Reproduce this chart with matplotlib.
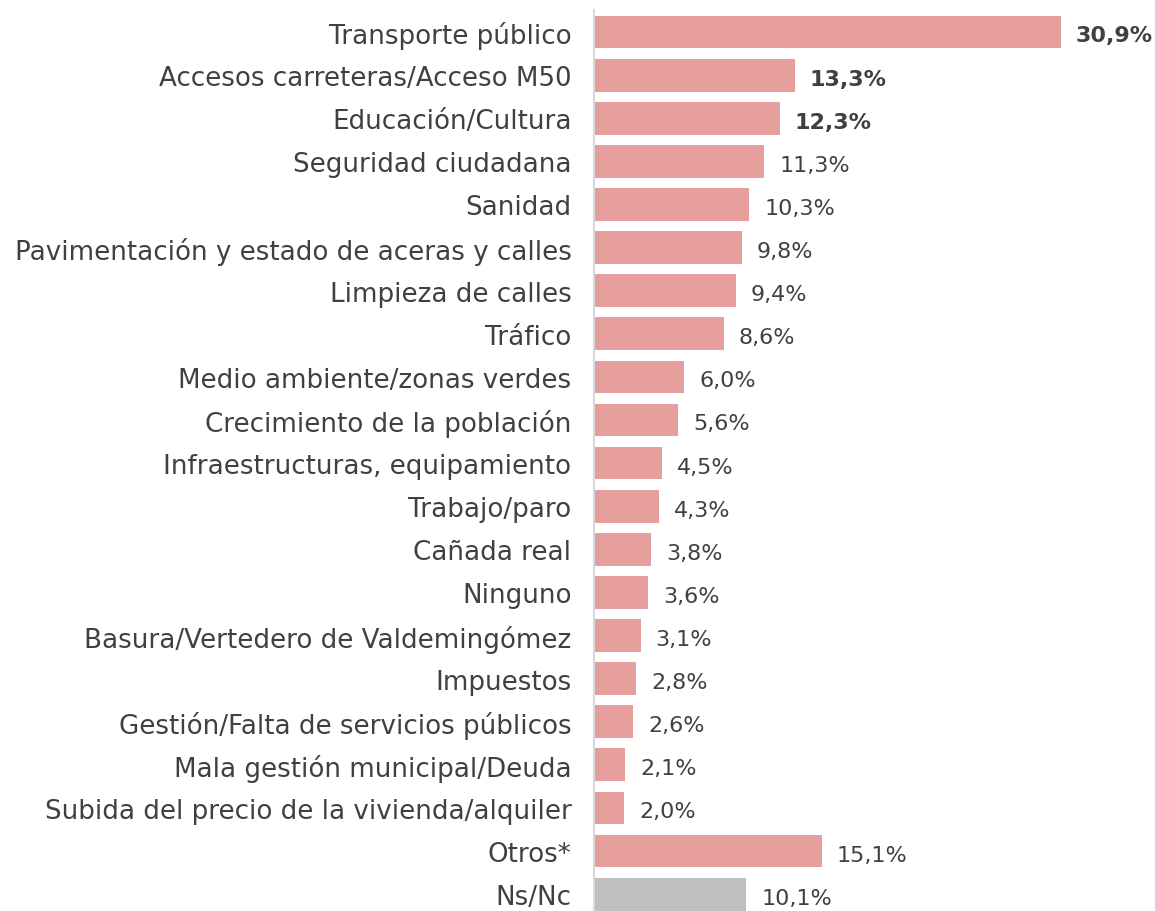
import matplotlib.pyplot as plt

categories = [
    "Transporte público",
    "Accesos carreteras/Acceso M50",
    "Educación/Cultura",
    "Seguridad ciudadana",
    "Sanidad",
    "Pavimentación y estado de aceras y calles",
    "Limpieza de calles",
    "Tráfico",
    "Medio ambiente/zonas verdes",
    "Crecimiento de la población",
    "Infraestructuras, equipamiento",
    "Trabajo/paro",
    "Cañada real",
    "Ninguno",
    "Basura/Vertedero de Valdemingómez",
    "Impuestos",
    "Gestión/Falta de servicios públicos",
    "Mala gestión municipal/Deuda",
    "Subida del precio de la vivienda/alquiler",
    "Otros*",
    "Ns/Nc",
]
values = [30.9, 13.3, 12.3, 11.3, 10.3, 9.8, 9.4, 8.6, 6.0, 5.6, 4.5, 4.3,
          3.8, 3.6, 3.1, 2.8, 2.6, 2.1, 2.0, 15.1, 10.1]
bold_top = 3

pink = "#E59E9C"
grey = "#BFBFBF"
text_col = "#404040"

plt.rcParams["font.family"] = ["DejaVu Sans"]

fig = plt.figure(figsize=(11.55, 9.12), dpi=100)
ax = fig.add_axes([0.514, 0.0, 0.458, 1.0])

colors = [pink] * (len(values) - 1) + [grey]
pos = list(range(len(values)))
ax.barh(pos, values, height=0.76, color=colors)

for i, v in enumerate(values):
    lbl = f"{v:.1f}%".replace(".", ",")
    ax.text(v + 1.0, i + 0.08, lbl, va="center", ha="left", fontsize=16,
            color=text_col, fontweight="bold" if i < bold_top else "normal")

ax.set_yticks(pos)
ax.set_yticklabels(categories, fontsize=18.8, color=text_col)
ax.tick_params(axis="y", length=0, pad=16)
ax.set_xticks([])
ax.set_xlim(0, 35)
ax.set_ylim(20.39, -0.766)

for s in ["top", "right", "bottom"]:
    ax.spines[s].set_visible(False)
ax.spines["left"].set_color("#D9D9D9")
ax.spines["left"].set_linewidth(1.5)
ax.spines["left"].set_bounds(20.39, -0.52)

fig.savefig("out.png", dpi=100)
